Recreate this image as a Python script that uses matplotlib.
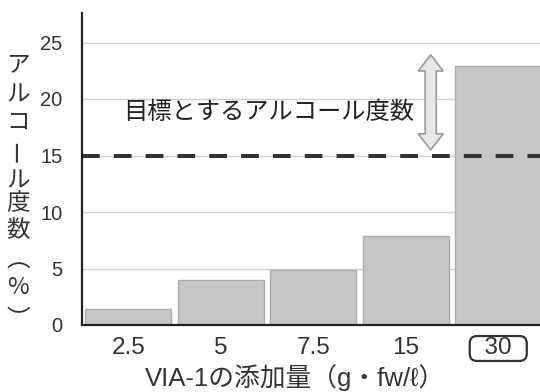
import matplotlib
matplotlib.use("Agg")
import matplotlib.pyplot as plt
from matplotlib.patches import Polygon

plt.rcParams['font.family'] = ['Liberation Sans', 'Noto Sans CJK JP']
CJK = ['Noto Sans CJK JP', 'DejaVu Sans']

# VIA-1 dose vs. alcohol content
doses = ['2.5', '5', '7.5', '15', '30']
alcohol = [1.4, 4.0, 4.9, 7.9, 22.9]
target = 15
yticks = [0, 5, 10, 15, 20, 25]
ylabel_chars = ['ア', 'ル', 'コ', 'ー', 'ル', '度', '数', '\ufe35', '%', '\ufe36']
xlabel = 'VIA-1の添加量（g・fw/ℓ）'
note = '目標とするアルコール度数'

W, H = 540, 392
fig = plt.figure(figsize=(W / 100, H / 100), dpi=100)
ax = fig.add_axes([82 / W, (H - 325) / H, 462.5 / W, 312 / H])

x = list(range(len(doses)))
ax.bar(x, alcohol, width=0.925, color='#c6c6c6', edgecolor='#adadad',
       linewidth=1, zorder=2)

ax.set_xlim(-0.5, 4.5)
ax.set_ylim(0, 312 / 11.3)
ax.set_yticks(yticks)
ax.set_xticks(x)
# last dose gets a framed label
labels = doses[:-1] + ['  ' + doses[-1] + '  ']
ax.set_xticklabels(labels)
ax.get_xticklabels()[-1].set_bbox(dict(boxstyle='round,pad=0.06,rounding_size=0.3',
                                       fc='white', ec='#333333', lw=1.6))
ax.yaxis.grid(True, color='#d0d0d0', linewidth=1, zorder=0)
ax.set_axisbelow(True)

for s in ['top', 'right']:
    ax.spines[s].set_visible(False)
for s in ['left', 'bottom']:
    ax.spines[s].set_linewidth(1.6)
    ax.spines[s].set_color('#222222')
    ax.spines[s].set_zorder(5)

ax.tick_params(axis='y', length=0, pad=14, labelsize=14.5, labelcolor='#333333')
ax.tick_params(axis='x', length=0, pad=9, labelsize=17.5, labelcolor='#333333')

# target line
ax.axhline(target, color='#333333', linewidth=2.9, dashes=(4.4, 3.5), zorder=4)

ax.text(1.52, 18.85, note, fontsize=17.5, color='#222222', ha='center',
        va='center', family=CJK)

# double-headed arrow between target and top
def dbl_arrow(xc, y0, y1, body=0.06, head=0.135, hl=1.42):
    pts = [(xc, y1), (xc + head, y1 - hl), (xc + body, y1 - hl),
           (xc + body, y0 + hl), (xc + head, y0 + hl), (xc, y0),
           (xc - head, y0 + hl), (xc - body, y0 + hl), (xc - body, y1 - hl),
           (xc - head, y1 - hl)]
    ax.add_patch(Polygon(pts, closed=True, fc='#e8e8e8', ec='#9a9a9a',
                         lw=1.2, zorder=3))

dbl_arrow(3.27, 15.5, 23.9)

# vertical y-axis label
ylabel_y = [66, 95, 122, 150, 181, 204, 231, 261, 288, 320]
for ch, yy in zip(ylabel_chars, ylabel_y):
    rot = 90 if ch == 'ー' else 0
    fig.text(18 / W, 1 - yy / H, ch, fontsize=17, color='#333333',
             ha='center', va='center', rotation=rot, family=CJK)

fig.text(295 / W, 1 - 378 / H, xlabel, fontsize=18.5, color='#333333',
         ha='center', va='center')

fig.savefig('out.png', dpi=100)
